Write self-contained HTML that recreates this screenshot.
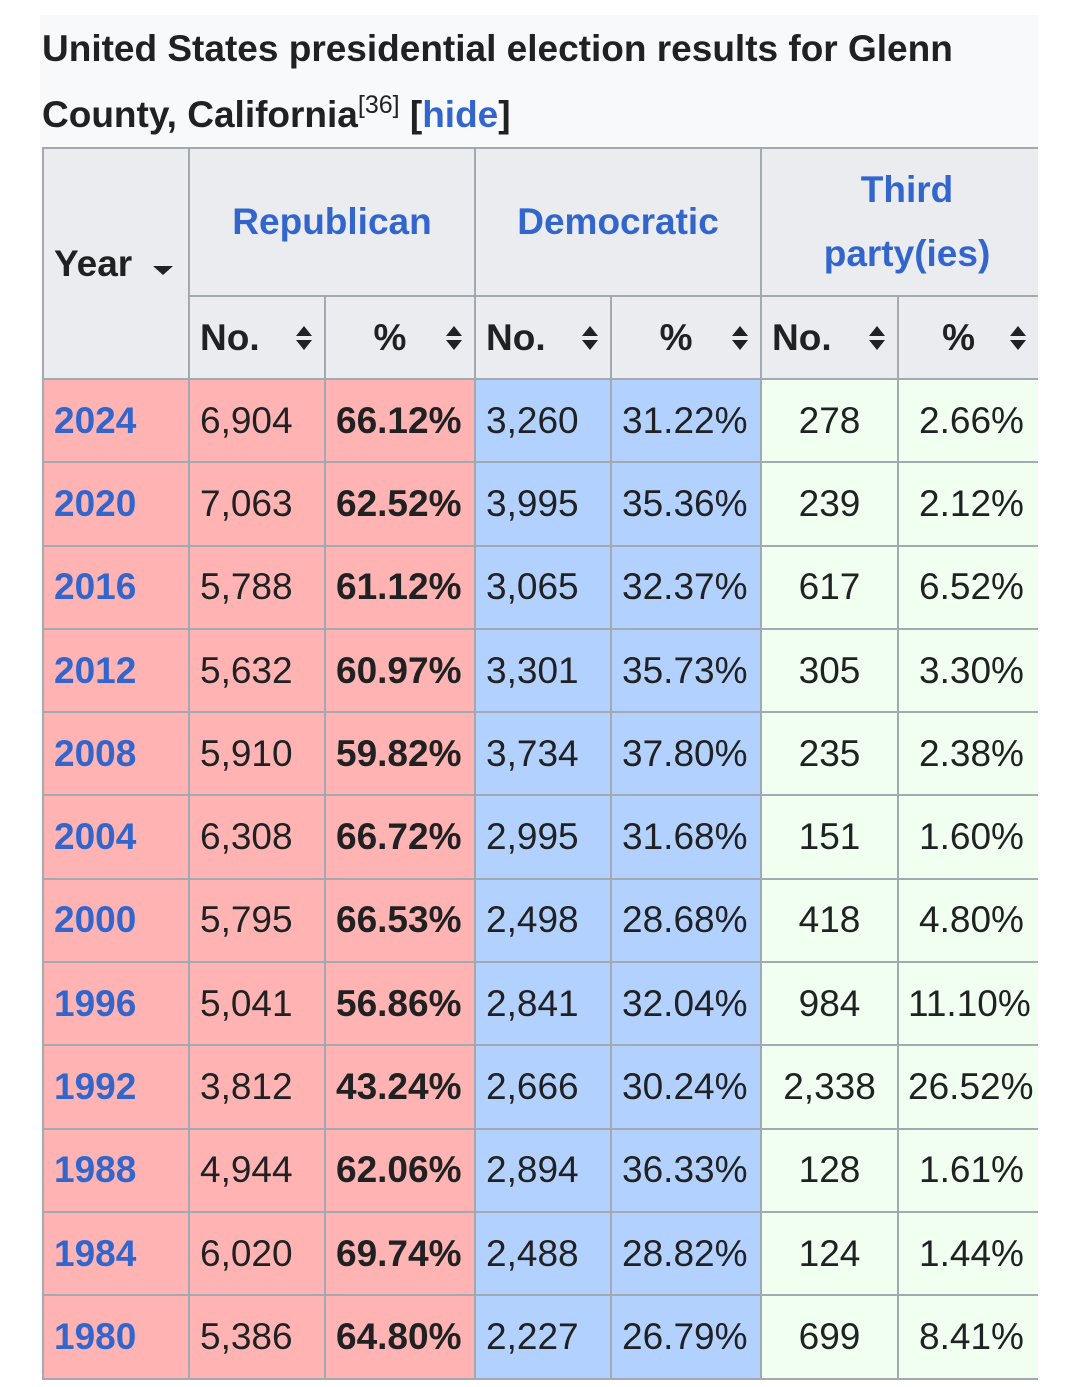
<!DOCTYPE html>
<html><head><meta charset="utf-8"><style>
body{margin:0;width:1080px;height:1375px;background:#fff;overflow:hidden;font-family:"Liberation Sans",sans-serif;color:#202122}
.panel{position:absolute;left:40px;top:15px;width:998px;height:1360px;background:#f8f9fa}
.title{position:absolute;left:42px;top:16px;font-size:37px;font-weight:bold;line-height:66px;width:990px}
.title sup{font-weight:normal;font-size:25px;vertical-align:14px;line-height:0}
.title a{color:#3366cc}
.wrap{position:absolute;left:42px;top:147px;width:996px;height:1240px;overflow:hidden}
table{border-collapse:collapse;table-layout:fixed;width:1010px}
td,th{border:2px solid #a2a9b1;padding:0 10px;font-size:37px;white-space:nowrap}
th{background:#eaecf0;font-weight:bold}
th.p{color:#3366cc;text-align:center;line-height:64px}
tr.d td{height:81.3px}
.y{color:#3366cc;font-weight:bold}
.r{background:#ffb3b3}.b{background:#b3d1ff}.g{background:#f0fff0;text-align:center}
.g2{background:#f0fff0;text-align:left;padding-left:20px}
.g3{background:#f0fff0;text-align:left;padding-left:9px}
.bo{font-weight:bold}
.s{float:right;display:inline-block;width:20px;height:30px;margin-top:6px}
</style></head><body>
<div class="panel"></div>
<div class="title">United States presidential election results for Glenn County, California<sup>[36]</sup> [<a>hide</a>]</div>
<div class="wrap"><table>
<colgroup><col style="width:146px"><col style="width:136px"><col style="width:150px"><col style="width:136px"><col style="width:150px"><col style="width:137px"><col style="width:155px"></colgroup>
<tr style="height:148px"><th rowspan="2" style="text-align:left">Year <svg width="22" height="12" style="margin-left:10px"><polygon points="1,2 21,2 11,11" fill="#202122"/></svg></th><th class="p" colspan="2">Republican</th><th class="p" colspan="2">Democratic</th><th class="p" colspan="2">Third<br>party(ies)</th></tr>
<tr style="height:83px">
<th style="text-align:left">No.<svg class="s" viewBox="0 0 20 30"><polygon points="2,13 18,13 10,3" fill="#202122"/><polygon points="2,17 18,17 10,27" fill="#202122"/></svg></th>
<th>%<svg class="s" viewBox="0 0 20 30"><polygon points="2,13 18,13 10,3" fill="#202122"/><polygon points="2,17 18,17 10,27" fill="#202122"/></svg></th>
<th style="text-align:left">No.<svg class="s" viewBox="0 0 20 30"><polygon points="2,13 18,13 10,3" fill="#202122"/><polygon points="2,17 18,17 10,27" fill="#202122"/></svg></th>
<th>%<svg class="s" viewBox="0 0 20 30"><polygon points="2,13 18,13 10,3" fill="#202122"/><polygon points="2,17 18,17 10,27" fill="#202122"/></svg></th>
<th style="text-align:left">No.<svg class="s" viewBox="0 0 20 30"><polygon points="2,13 18,13 10,3" fill="#202122"/><polygon points="2,17 18,17 10,27" fill="#202122"/></svg></th>
<th style="padding-right:24px">%<svg class="s" viewBox="0 0 20 30"><polygon points="2,13 18,13 10,3" fill="#202122"/><polygon points="2,17 18,17 10,27" fill="#202122"/></svg></th></tr>
<tr class="d"><td class="r y">2024</td><td class="r">6,904</td><td class="r bo">66.12%</td><td class="b">3,260</td><td class="b">31.22%</td><td class="g">278</td><td class="g2">2.66%</td></tr>
<tr class="d"><td class="r y">2020</td><td class="r">7,063</td><td class="r bo">62.52%</td><td class="b">3,995</td><td class="b">35.36%</td><td class="g">239</td><td class="g2">2.12%</td></tr>
<tr class="d"><td class="r y">2016</td><td class="r">5,788</td><td class="r bo">61.12%</td><td class="b">3,065</td><td class="b">32.37%</td><td class="g">617</td><td class="g2">6.52%</td></tr>
<tr class="d"><td class="r y">2012</td><td class="r">5,632</td><td class="r bo">60.97%</td><td class="b">3,301</td><td class="b">35.73%</td><td class="g">305</td><td class="g2">3.30%</td></tr>
<tr class="d"><td class="r y">2008</td><td class="r">5,910</td><td class="r bo">59.82%</td><td class="b">3,734</td><td class="b">37.80%</td><td class="g">235</td><td class="g2">2.38%</td></tr>
<tr class="d"><td class="r y">2004</td><td class="r">6,308</td><td class="r bo">66.72%</td><td class="b">2,995</td><td class="b">31.68%</td><td class="g">151</td><td class="g2">1.60%</td></tr>
<tr class="d"><td class="r y">2000</td><td class="r">5,795</td><td class="r bo">66.53%</td><td class="b">2,498</td><td class="b">28.68%</td><td class="g">418</td><td class="g2">4.80%</td></tr>
<tr class="d"><td class="r y">1996</td><td class="r">5,041</td><td class="r bo">56.86%</td><td class="b">2,841</td><td class="b">32.04%</td><td class="g">984</td><td class="g3">11.10%</td></tr>
<tr class="d"><td class="r y">1992</td><td class="r">3,812</td><td class="r bo">43.24%</td><td class="b">2,666</td><td class="b">30.24%</td><td class="g">2,338</td><td class="g3">26.52%</td></tr>
<tr class="d"><td class="r y">1988</td><td class="r">4,944</td><td class="r bo">62.06%</td><td class="b">2,894</td><td class="b">36.33%</td><td class="g">128</td><td class="g2">1.61%</td></tr>
<tr class="d"><td class="r y">1984</td><td class="r">6,020</td><td class="r bo">69.74%</td><td class="b">2,488</td><td class="b">28.82%</td><td class="g">124</td><td class="g2">1.44%</td></tr>
<tr class="d"><td class="r y">1980</td><td class="r">5,386</td><td class="r bo">64.80%</td><td class="b">2,227</td><td class="b">26.79%</td><td class="g">699</td><td class="g2">8.41%</td></tr>
</table></div>
</body></html>
